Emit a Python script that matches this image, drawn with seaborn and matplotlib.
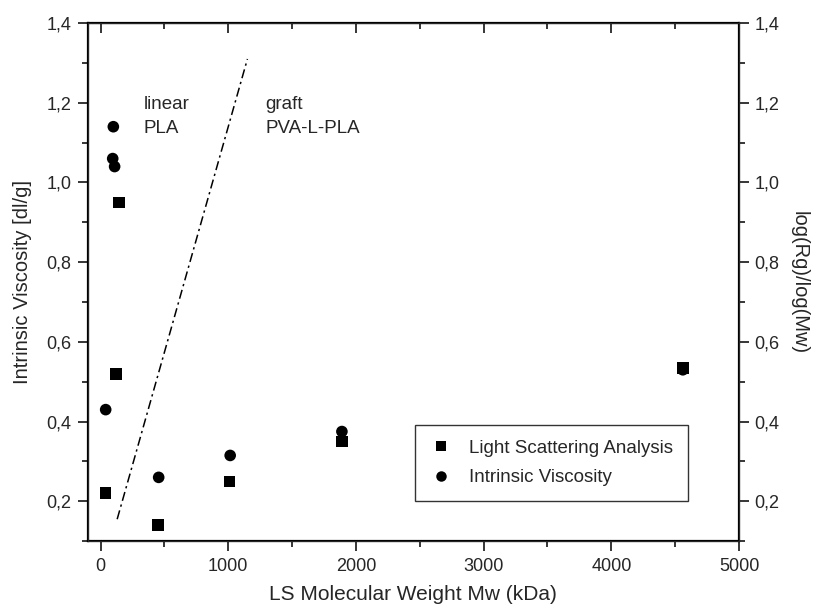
import pandas as pd
import seaborn as sns
import numpy as np
import matplotlib.pyplot as plt
from matplotlib.ticker import MultipleLocator, FuncFormatter

sns.set_style('white')
plt.rcParams['font.family'] = ['Liberation Sans', 'DejaVu Sans']

# light scattering analysis (squares)
ls_mw = [40, 120, 145, 450, 1010, 1890, 4560]
ls_val = [0.22, 0.52, 0.95, 0.14, 0.25, 0.35, 0.535]
# intrinsic viscosity (circles)
iv_mw = [40, 95, 100, 110, 455, 1015, 1890, 4560]
iv_val = [0.43, 1.06, 1.14, 1.04, 0.26, 0.315, 0.375, 0.53]

# dash-dot separator between linear and graft
sep_mw = [130, 1150]
sep_val = [0.155, 1.31]

series = ['Light Scattering Analysis'] * len(ls_mw) + ['Intrinsic Viscosity'] * len(iv_mw)
data = pd.DataFrame({'Mw': ls_mw + iv_mw, 'val': ls_val + iv_val, 'series': series})

fig, ax = plt.subplots(figsize=(8.13, 6.08), dpi=100)
fig.subplots_adjust(left=0.108, right=0.909, top=0.962, bottom=0.11)

sns.scatterplot(x='Mw', y='val', data=data, style='series',
                markers={'Light Scattering Analysis': 's', 'Intrinsic Viscosity': 'o'},
                color='black', s=70, edgecolor='black', linewidth=0, ax=ax)
ax.plot(sep_mw, sep_val, color='black', linestyle=(0, (6, 2.5, 1.5, 2.5)), linewidth=1.1)

ax.set_xlim(-100, 5000)
ax.set_ylim(0.1, 1.4)
comma = FuncFormatter(lambda v, p: ('%.1f' % v).replace('.', ','))
ax.xaxis.set_major_locator(MultipleLocator(1000))
ax.xaxis.set_minor_locator(MultipleLocator(500))
ax.yaxis.set_major_locator(MultipleLocator(0.2))
ax.yaxis.set_minor_locator(MultipleLocator(0.1))
ax.yaxis.set_major_formatter(comma)
ax.tick_params(which='both', direction='out', labelsize=13, width=1.3,
               bottom=True, left=True, top=False, pad=5)
ax.tick_params(which='major', length=7)
ax.tick_params(which='minor', length=4)

for sp in ax.spines.values():
    sp.set_linewidth(1.6)
    sp.set_color('black')

ax2 = ax.twinx()
ax2.set_ylim(0.1, 1.4)
ax2.yaxis.set_major_locator(MultipleLocator(0.2))
ax2.yaxis.set_minor_locator(MultipleLocator(0.1))
ax2.yaxis.set_major_formatter(comma)
ax2.tick_params(which='both', direction='out', labelsize=13, width=1.3, pad=4)
ax2.tick_params(which='major', length=7)
ax2.tick_params(which='minor', length=4)
ax2.set_ylabel('log(Rg)/log(Mw)', rotation=270, labelpad=21, fontsize=14.5)

# top axis ticks point inward
top = ax.secondary_xaxis('top')
top.xaxis.set_major_locator(MultipleLocator(1000))
top.xaxis.set_minor_locator(MultipleLocator(500))
top.tick_params(which='both', direction='in', labeltop=False, width=1.3)
top.tick_params(which='major', length=7)
top.tick_params(which='minor', length=4)

ax.set_xlabel('LS Molecular Weight Mw (kDa)', fontsize=15, labelpad=7)
ax.set_ylabel('Intrinsic Viscosity [dl/g]', fontsize=14.5, labelpad=10)

ax.text(340, 1.165, 'linear\nPLA', fontsize=13.5, va='center', linespacing=1.55)
ax.text(1290, 1.165, 'graft\nPVA-L-PLA', fontsize=13.5, va='center', linespacing=1.55)

ax.legend(loc='lower left', bbox_to_anchor=(0.502, 0.077),
          fontsize=13.5, frameon=True, fancybox=False, edgecolor='black',
          handletextpad=0.9, borderpad=0.8, labelspacing=0.65, markerscale=0.9,
          handlelength=1.2, borderaxespad=0)
ax.get_legend().get_frame().set_linewidth(1.0)

fig.savefig('out.png', dpi=100)
